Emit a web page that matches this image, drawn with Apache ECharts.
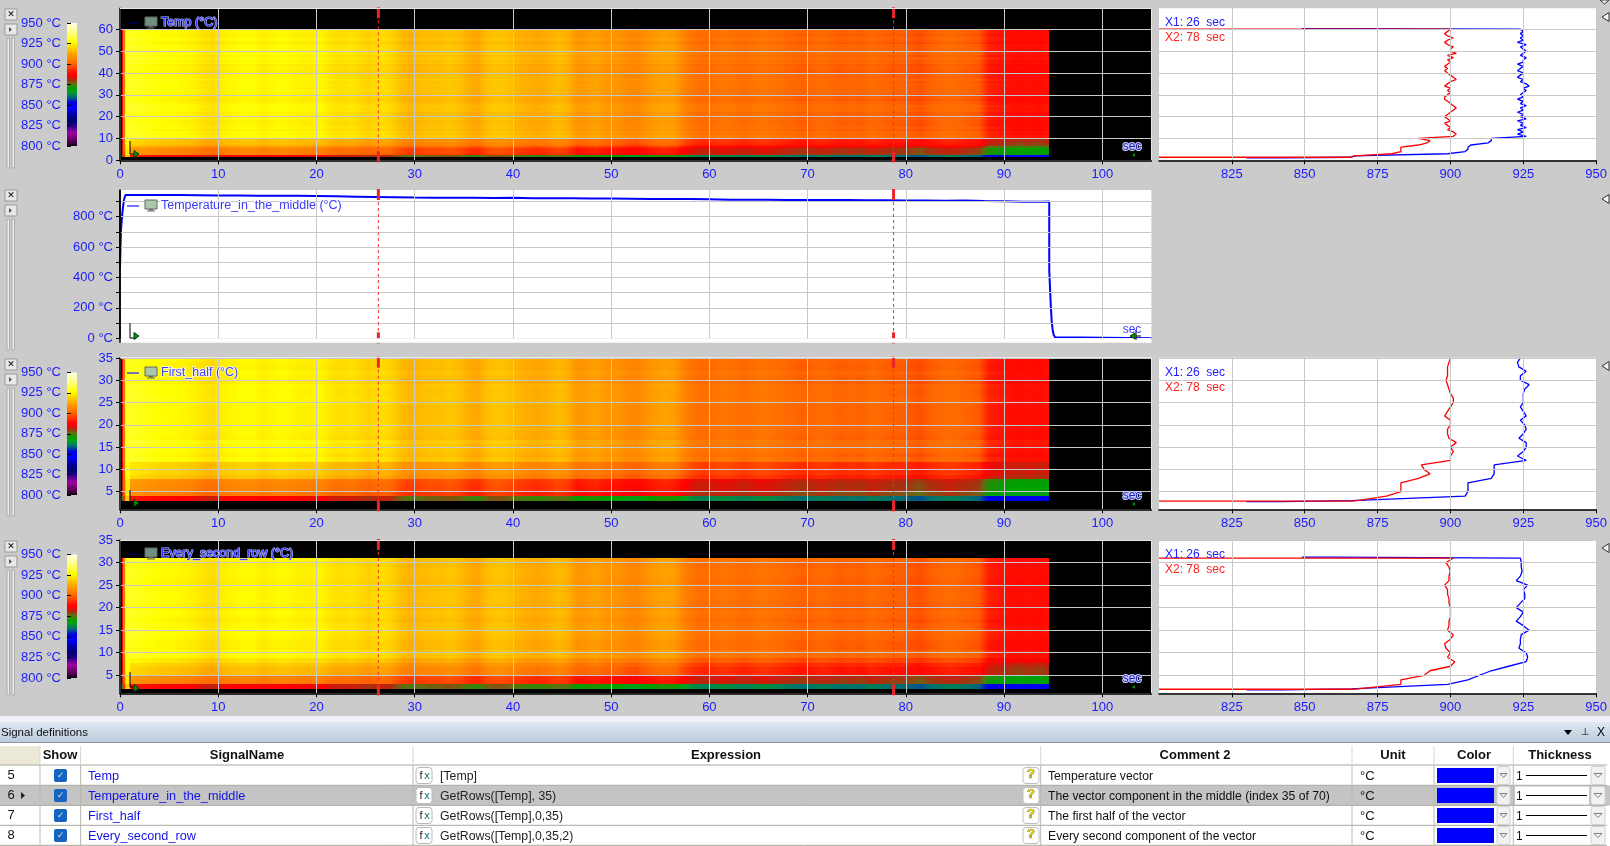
<!DOCTYPE html>
<html><head><meta charset="utf-8">
<style>html,body{margin:0;padding:0;background:#cbcbcb;overflow:hidden}#c{width:1610px;height:846px}</style>
<script src="https://cdn.jsdelivr.net/npm/echarts@6/dist/echarts.min.js"></script>
</head><body><div id="c"></div>
<script>
// ---------- data ----------
const colormapTemps = [950,938,927,918,910,900,890,886,880,876,870,866,860,853,846,838,830,825,816,805,800];
const colormapColors = ['#ffffe8','#ffff80','#ffff00','#ffc800','#ff9800','#ff6400','#ff1000','#ff0000','#a83010','#607010','#00a000','#00a020','#007070','#0000e0','#0000ff','#0000a0','#000070','#200090','#a000a0','#500050','#100010'];
const colorbarTicks = [800,825,850,875,900,925,950];
const timeTicks = [0,10,20,30,40,50,60,70,80,90,100];
const profileTicks = [825,850,875,900,925,950];
const cursorTimes = [26.3,78.75];

// column start times and body temperature of each heat-map column
const startEdges = [0,0.15,0.25,0.35,0.5,0.6];
const startTemps = [700,835,888,905,925,930];
const bodyTemps = [930,929,928,927,927,926,925,923,922,925,926,927,927,925,926,927,926,925,925,926,923,922,923,921,920,922,921,917,915,916,917,917,918,917,914,913,917,918,917,915,914,913,914,916,915,910,911,912,910,910,908,907,909,911,912,911,906,903,902,903,904,903,902,903,904,903,902,901,900,901,902,901,900,901,900,902,901,900,900,899,898,900,901,902,901,900,899,892,891,890,889,890,889,890];
const endTime = 94.6;

// panel 1: Temp — X1 / X2 profiles, rows 60 down to 2
const tempX1 = [924,925,924,925,924,925,923,926,924,925,926,925,924,926,925,925,923,925,924,923,925,924,923,925,924,926,927,925,926,925,924,925,923,925,924,926,924,925,923,925,924,926,923,925,924,926,923,925,923,926,914,914,913,907,906,906,905,899,867];
const tempX2 = [900,899,898,899,901,899,898,899,901,900,900,902,899,901,899,900,899,898,899,898,899,900,901,902,900,899,898,900,899,900,899,898,898,899,900,901,902,901,900,899,898,899,900,898,899,900,899,901,902,901,889,893,892,889,883,883,883,880,867];
const tempLowOffsets = [-9,-9,-10,-11,-16,-20,-20,-21,-40];

// panel 3: First_half — rows 35 down to 3
const firstX1 = [924,923,923.5,926,924,924,927,925.5,925,925,925,924,925,926,924,925.5,926,925,923.5,926,926,925,923,926,915,915,915,914,906,906,906,905,866];
const firstX2 = [900,899.5,899,899,899,898.5,899,899.5,900,901,901,900,899,898,900,900,899,899,899.5,902,900,901,900,900,890,891,893,889,883,883,883,878,868];
const firstLowOffsets = [-7,-7,-7,-9,-19,-20,-20,-22,-40];

// panel 4: Every_second_row — rows 31 down to 2
const everyX1 = [924,924.3,924.3,924.6,924,922.6,926.5,925,925.5,925.5,924,922.6,925,924,922.6,925,927,924.3,924,924,923.5,926,926.5,926,920,914,910,906,899,866];
const everyX2 = [901,898.5,899.5,900,899.5,899.5,898,899,899,899.5,899.5,900,900,900,899.5,899.5,899,901,900,898,898.5,900,899,901.5,900,893,891,883,883,868];
const everyLowOffsets = [-4,-8,-10,-10,-20,-21,-40];

// panel 2: Temperature_in_the_middle
const midRiseTimes = [0,0.1,0.25,0.4,0.55,1.7];
const midRiseTemps = [470,712,832,910,943,943];
const midTimes = [2,4,6,8,10,12,14,16,18,20,22,24,26,28,30,32,34,36,38,40,42,44,46,48,50,52,54,56,58,60,62,64,66,68,70,72,74,76,78,80,82,84,86,88,90,92,94];
const midTemps = [943,942,941,940,939,938,937,937,936,934,932,930,928,926,925,925,924,923,924,922,921,922,920,919,918,917,916,917,915,912,911,912,910,909,909,909,908,908,907,907,905,906,903,901,899,899,900];
const midFallTimes = [94.6,94.75,94.85,94.95,95.05,95.2,95.35,105];
const midFallTemps = [450,225,110,55,22,7,0,0];

// table
const rowNumbers = ['5','6','7','8'];
const signalNames = ['Temp','Temperature_in_the_middle','First_half','Every_second_row'];
const expressions = ['[Temp]','GetRows([Temp], 35)','GetRows([Temp],0,35)','GetRows([Temp],0,35,2)'];
const comments = ['Temperature vector','The vector component in the middle (index 35 of 70)','The first half of the vector','Every second component of the vector'];

// ---------- helpers ----------
const FONT = '"Liberation Sans",Arial,sans-serif';
const BLUE = '#1a1aff';
const GRIDC = '#c8c8c8';
const rgb = h => [1,3,5].map(i => parseInt(h.substr(i,2),16));
function colorOf(t){
  if (t < 800) return '#000000';
  if (t >= colormapTemps[0]) return colormapColors[0];
  for (let i = 1; i < colormapTemps.length; i++){
    if (t >= colormapTemps[i]){
      const f = (t-colormapTemps[i])/(colormapTemps[i-1]-colormapTemps[i]);
      const a = rgb(colormapColors[i]), b = rgb(colormapColors[i-1]);
      return 'rgb('+a.map((v,k)=>Math.round(v+(b[k]-v)*f)).join(',')+')';
    }
  }
  return '#000000';
}
const grid=[],xAxis=[],yAxis=[],series=[];
const PLOT_L=120, PLOT_R=1151.4, PROF_L=1159, PROF_R=1599.7, H=846, W=1610;
function addGrid(l,r,t,b,bg){
  grid.push({left:l,top:t,width:r-l,height:b-t,show:true,backgroundColor:bg,borderWidth:0,containLabel:false});
  return grid.length-1;
}
function axisX(g,min,max,ticks,labels,line){
  const a={type:'value',gridIndex:g,min,max,z:5,position:'bottom',
    axisLine:{show:line,onZero:false,lineStyle:{color:'#000',width:1.5}},
    axisTick:{show:line,length:4,customValues:ticks,lineStyle:{color:'#000'}},
    axisLabel:{show:labels,customValues:ticks,color:BLUE,fontFamily:FONT,fontSize:13,margin:8},
    splitLine:{show:true,lineStyle:{color:GRIDC,width:1}}};
  xAxis.push(a);return xAxis.length-1;
}
function axisY(g,min,max,ticks,labels,fmt,tickVals){
  const a={type:'value',gridIndex:g,min,max,z:5,position:'left',
    axisLine:{show:labels,onZero:false,lineStyle:{color:'#000',width:1.5}},
    axisTick:{show:labels,length:4,customValues:tickVals||ticks,lineStyle:{color:'#000'}},
    axisLabel:{show:labels,customValues:ticks,color:BLUE,fontFamily:FONT,fontSize:13,margin:7,padding:[2,0,0,0],formatter:fmt||'{value}'},
    splitLine:{show:true,lineStyle:{color:GRIDC,width:1}}};
  yAxis.push(a);return yAxis.length-1;
}
function cursorSeries(xi,yi,ymin,extra){
  series.push({type:'custom',xAxisIndex:xi,yAxisIndex:yi,z:8,silent:true,clip:false,animation:false,
    data:cursorTimes.map(t=>[t,ymin]),encode:{x:0,y:1},
    renderItem(p,api){
      const x=api.coord([api.value(0),api.value(1)])[0], c=p.coordSys;
      const bot=c.y+c.height;
      return {type:'group',children:[
        {type:'line',shape:{x1:x,y1:c.y,x2:x,y2:bot},style:{stroke:'#ff2a2a',lineWidth:1,lineDash:[3,3]}},
        {type:'rect',shape:{x:x-1.5,y:c.y-1,width:3,height:11},style:{fill:'#e8252a'}},
        {type:'rect',shape:{x:x-1.5,y:bot+extra-11,width:3,height:11},style:{fill:'#e8252a'}}
      ]};
    }});
}
function heatPanel(top,bottom,ymin,ymax,rowTicks,rowLow,rowHigh,x1,x2,lowOffsets){
  const g=addGrid(PLOT_L,PLOT_R,top,bottom,'#000');
  const xi=axisX(g,0,105,timeTicks,true,true);
  const yi=axisY(g,ymin,ymax,rowTicks,true);
  const edges=startEdges.slice(), temps=startTemps.slice();
  bodyTemps.forEach((v,i)=>{edges.push(i+1);temps.push(v);});
  edges.push(endTime);
  const n=x1.length, step=(rowHigh-rowLow)/n;
  const lowStart=n-lowOffsets.length, ns=startTemps.length;
  const data=[];
  for(let c=0;c<temps.length;c++){
    for(let r=0;r<n;r++){ // r=0 is the top row
      const off=r>=lowStart?lowOffsets[r-lowStart]:((x1[r]+x2[r])/2-912.5);
      const k=c<ns?0.3:1;
      const mid=temps[c]+off*k;
      const left=c>ns?(temps[c-1]+temps[c])/2+off:mid;
      const right=(c>=ns&&c<temps.length-1)?(temps[c]+temps[c+1])/2+off:mid;
      data.push([edges[c],rowHigh-(r+1)*step,edges[c+1],rowHigh-r*step,left,mid,right]);
    }
  }
  series.push({type:'custom',xAxisIndex:xi,yAxisIndex:yi,z:2,silent:true,animation:false,progressive:0,clip:true,
    data,encode:{x:[0,2],y:[1,3]},
    renderItem(p,api){
      const a=api.coord([api.value(0),api.value(1)]),b=api.coord([api.value(2),api.value(3)]);
      const x0=Math.round(a[0]),x1=Math.round(b[0]),y0=Math.round(b[1]),y1=Math.round(a[1]);
      const l=api.value(4),m=api.value(5),r=api.value(6);
      const fill=(l===m&&m===r)?colorOf(m):new echarts.graphic.LinearGradient(0,0,1,0,[
        {offset:0,color:colorOf(l)},{offset:0.5,color:colorOf(m)},{offset:1,color:colorOf(r)}]);
      return {type:'rect',shape:{x:x0,y:y0,width:x1-x0,height:y1-y0},style:{fill}};
    }});
  cursorSeries(xi,yi,ymin,2);
}
function profilePanel(top,bottom,ymin,ymax,rowTicks,rowTop,rowStep,x1,x2,x1Head,x1Tail,x2Head,x2Tail){
  const g=addGrid(PROF_L,PROF_R,top,bottom,'#fff');
  const xi=axisX(g,800,950,profileTicks,true,true);
  const yi=axisY(g,ymin,ymax,rowTicks,false);
  yAxis[yi].axisTick.show=true;yAxis[yi].axisTick.length=0;
  const mk=(head,vals,tail)=>head.concat(vals.map((v,i)=>[v,rowTop-i*rowStep]),tail);
  [[mk(x1Head,x1,x1Tail),'#0000ff'],[mk(x2Head,x2,x2Tail),'#ff0000']].forEach(([d,c])=>{
    series.push({type:'line',xAxisIndex:xi,yAxisIndex:yi,data:d,showSymbol:false,symbol:'none',animation:false,silent:true,z:3,clip:true,
      lineStyle:{color:c,width:1.3}});
  });
}
function colorbar(top,bottom){
  const g=addGrid(67,77,top,bottom,'transparent');
  const xi=xAxis.push({type:'value',gridIndex:g,min:0,max:1,show:false,splitLine:{show:false}})-1;
  const yi=yAxis.push({type:'value',gridIndex:g,min:800,max:950,position:'left',z:5,
    axisLine:{show:false},splitLine:{show:false},
    axisTick:{show:true,inside:true,length:4,customValues:colorbarTicks,lineStyle:{color:'#000',width:1}},
    axisLabel:{customValues:colorbarTicks,color:BLUE,fontFamily:FONT,fontSize:13,margin:6,padding:[2,0,0,0],formatter:'{value} °C'}})-1;
  const stops=colormapTemps.map((t,i)=>({offset:(950-t)/150,color:colormapColors[i]}));
  series.push({type:'custom',xAxisIndex:xi,yAxisIndex:yi,z:2,silent:true,animation:false,clip:false,
    data:[[0,800,1,950]],encode:{x:[0,2],y:[1,3]},
    renderItem(p,api){
      const a=api.coord([api.value(0),api.value(1)]),b=api.coord([api.value(2),api.value(3)]);
      return {type:'rect',shape:{x:a[0],y:b[1],width:b[0]-a[0],height:a[1]-b[1]},
        style:{fill:new echarts.graphic.LinearGradient(0,0,0,1,stops)}};
    }});
}

// ---------- panels ----------
const ticks60=[0,10,20,30,40,50,60], ticks35=[5,10,15,20,25,30,35];
heatPanel(8.3,160.3,0,69.6,ticks60,1.5,60,tempX1,tempX2,tempLowOffsets);
profilePanel(8.3,160.3,0,69.6,ticks60,60,1,tempX1,tempX2,
  [[849,60.3],[860,60.3],[860,60]],[[866,1.4],[842,1.15],[830,1.15]],[[800,60]],[[866,1.4],[800,1.4]]);
colorbar(23,146);

{
  const g=addGrid(PLOT_L,PLOT_R,190,338.3,'#fff');
  const xi=axisX(g,0,105,timeTicks.slice(1),false,false);
  const hundred=[0,100,200,300,400,500,600,700,800,900];
  const yi=axisY(g,0,975.6,[0,200,400,600,800],true,'{value} °C',hundred);
  const d=[];
  midRiseTimes.forEach((t,i)=>d.push([t,midRiseTemps[i]]));
  midTimes.forEach((t,i)=>d.push([t,midTemps[i]]));
  midFallTimes.forEach((t,i)=>d.push([t,midFallTemps[i]]));
  series.push({type:'line',xAxisIndex:xi,yAxisIndex:yi,data:d,step:'end',showSymbol:false,symbol:'none',animation:false,silent:true,z:3,clip:false,
    lineStyle:{color:'#0000ff',width:2}});
  cursorSeries(xi,yi,0,5);
}

heatPanel(357.7,509.3,1.05,35.05,ticks35,3,35,firstX1,firstX2,firstLowOffsets);
profilePanel(357.7,509.3,1.05,35.05,ticks35,35,1,firstX1,firstX2,
  [],[[842,2.75],[830,2.75]],[],[[866,2.9],[800,2.9]]);
colorbar(372.5,495);

heatPanel(540,693.3,1,35,ticks35,2,31,everyX1,everyX2,everyLowOffsets);
profilePanel(540,693.3,1,35,ticks35,31,1,everyX1,everyX2,
  [[849,31.2],[860,31.2],[860,31]],[[842,1.75],[830,1.75]],[[800,31]],[[866,1.9],[800,1.9]]);
colorbar(554.5,678);

// ---------- chrome drawn as graphic elements ----------
const G=[];
const Z=20;
const rect=(x,y,w,h,fill,stroke,r)=>G.push({type:'rect',z:Z,silent:true,shape:{x,y,width:w,height:h,r:r||0},style:{fill:fill||'none',stroke:stroke||null,lineWidth:1}});
const line=(x1,y1,x2,y2,c,w)=>G.push({type:'line',z:Z,silent:true,shape:{x1,y1,x2,y2},style:{stroke:c,lineWidth:w||1}});
const poly=(pts,fill,stroke)=>G.push({type:'polygon',z:Z,silent:true,shape:{points:pts},style:{fill:fill||'none',stroke:stroke||null,lineWidth:1}});
const text=(x,y,s,o)=>G.push({type:'text',z:Z+1,silent:true,style:Object.assign({x,y,text:s,fill:'#000',font:'13px '+FONT,textAlign:'left',textVerticalAlign:'middle'},o||{})});

rect(120,338.3,1031.4,4.4,'#fff');
line(120,190,120,342.7,'#000',1.5);
// light frame of the heat-map plots
[[8.5,160],[357.5,509],[540.5,693]].forEach(([t,b])=>{
  line(120,t,1151.5,t,'#e8e8e8',1);
  line(1151.5,t,1151.5,b,'#e8e8e8',1);
});

function plotDecor(title,yTitle,isBlack){
  line(127,yTitle+1,139,yTitle+1,isBlack?'#000060':BLUE,1.2);
  rect(145,yTitle-5,12,9,isBlack?'#6f8f80':'#a8c8a8','#666');
  rect(149,yTitle+4,4,1.5,'#666');rect(147,yTitle+5.5,8,1,'#666');
  text(161,yTitle+0.5,title,{fill:isBlack?'#2b2bff':'#3a3af0',font:'12.5px '+FONT,
    stroke:isBlack?'#c0c4ff':'#ffffff',lineWidth:isBlack?1.2:1.5});
}
plotDecor('Temp (°C)',22,true);
plotDecor('Temperature_in_the_middle (°C)',205,false);
plotDecor('First_half (°C)',372,false);
plotDecor('Every_second_row (°C)',553,true);

function arrowL(x,y1,y2,triY){
  line(x,y1,x,y2,'#000',1);line(x,y2,x+4,y2,'#000',1);
  poly([[x+4,triY-3.5],[x+9,triY],[x+4,triY+3.5]],'#118811','#004400');
}
arrowL(130,141,154,154);arrowL(130,323,338,336);arrowL(130,490,502,503);arrowL(130,672,687,688);

function secLabel(y,plain){
  text(1132,y,'sec',{fill:plain?'#3a3aff':'#2020c0',textAlign:'center',font:'12px '+FONT,
    stroke:plain?'#ffffff':'#c8d0ff',lineWidth:plain?0:2});
  if(!plain) poly([[1135,y+6],[1135,y+10],[1132,y+8]],'#118811');
}
secLabel(147);secLabel(329.5,true);secLabel(496);secLabel(679);
line(1136,330,1136,340,'#000',1);line(1136,336,1141,336,'#000',1);
poly([[1135,333],[1135,339],[1130,336]],'#118811','#004400');

function cursorText(y){
  text(1165,y,'X1: 26  sec',{fill:'#2020ff',font:'12px '+FONT});
  text(1165,y+15,'X2: 78  sec',{fill:'#ff2020',font:'12px '+FONT});
}
cursorText(23);cursorText(372.5);cursorText(554.5);

function sideControls(y,sliderEnd){
  rect(5,y,12,11,'#e8e8e8','#999');
  text(11,y+5.5,'✕',{textAlign:'center',font:'bold 9px "DejaVu Sans"'});
  rect(5,y+15,12,11,'#e8e8e8','#999');
  poly([[9,y+18],[9,y+23],[12,y+20.5]],'#555');
  rect(7,y+29,2.5,sliderEnd-y-29,'#eeeeee','#aaa');
  rect(12,y+29,2.5,sliderEnd-y-29,'#eeeeee','#aaa');
}
sideControls(9,168);sideControls(190,350);sideControls(359,516);sideControls(541,695);

const sideTri=y=>poly([[1609,y-4.5],[1609,y+4.5],[1602,y]],'#f4f4f4','#333');
sideTri(17);sideTri(199);sideTri(366);sideTri(548);
poly([[1600,0],[1609,0],[1604.5,4]],'#f4f4f4','#333');

// table
rect(0,716,1610,6,'#eef2f8');
G.push({type:'rect',z:Z,silent:true,shape:{x:0,y:722,width:1610,height:20},
  style:{fill:new echarts.graphic.LinearGradient(0,0,0,1,[{offset:0,color:'#dfe8f2'},{offset:1,color:'#bccbdc'}])}});
rect(0,742,1610,104,'#ffffff');
line(0,742.5,1610,742.5,'#8a94a0',1);
text(1,733,'Signal definitions',{font:'11.5px '+FONT,fill:'#111'});
poly([[1564,730],[1572,730],[1568,735]],'#000');
text(1585,732,'⊥',{font:'10px "DejaVu Sans"',textAlign:'center'});
text(1601,733,'X',{font:'12px '+FONT,textAlign:'center'});

const colX=[40,80.6,413,1040.7,1352,1434,1513.3];
const headers=[['Show',60],['SignalName',247],['Expression',726],['Comment 2',1195],['Unit',1393],['Color',1474],['Thickness',1560]];
rect(0,746,40,19,'#ece9d8');
headers.forEach(h=>text(h[1],755.5,h[0],{font:'bold 13px '+FONT,textAlign:'center',fill:'#111'}));
rect(0,785.5,1610,20,'#c4c4c4');
const rowY=[775.5,795.5,815.5,835.5];
[765,785.3,805.3,825.3,845.3].forEach(y=>line(0,y,1607,y,'#a8a89c',1));
colX.forEach(x=>line(x,746,x,765,'#d8d8d0',1));
colX.forEach(x=>line(x,765,x,845.3,'#b8b8b0',1));
rowY.forEach((y,i)=>{
  const ty=y+0.7;
  text(11,ty-0.5,rowNumbers[i],{textAlign:'center',font:'13px '+FONT,fill:'#111'});
  if(i===1) poly([[21,y-3.5],[21,y+3.5],[25,y]],'#222');
  rect(54,y-6.5,13,13,'#1565c0',null,2);
  text(60.5,y,'✓',{textAlign:'center',font:'9px "DejaVu Sans"',fill:'#cfe0f5'});
  text(88,ty,signalNames[i],{fill:'#1414e6',font:'12.7px '+FONT});
  rect(416,y-8,16,16,'#fff','#b8b8b8',3);
  text(421,ty,'f',{font:'11px '+FONT,fill:'#222',textAlign:'center'});
  text(427,ty,'x',{font:'11px '+FONT,fill:'#157070',textAlign:'center'});
  text(440,ty,expressions[i],{fill:'#222',font:'12.3px '+FONT});
  rect(1023,y-8,16,16,'#fff','#c0c0c0',3);
  text(1031,y-1,'?',{textAlign:'center',font:'bold 13px '+FONT,fill:'#e6d800',stroke:'#555',lineWidth:0.7});
  text(1048,ty,comments[i],{fill:'#111',font:'12.2px '+FONT});
  text(1360,ty,'°C',{fill:'#111',font:'13px '+FONT});
  rect(1437,y-7.5,57,15,'#0000ff');
  rect(1497,y-9,13,18,'#f2f2f2','#d0d0d0',2);
  poly([[1500,y-2],[1503.5,y+2],[1507,y-2]],null,'#808080');
  if(i===1) rect(1515,y-9,74,18,'#fff');
  text(1516,ty,'1',{fill:'#111',font:'12px '+FONT});
  line(1526,y,1587,y,'#000',1);
  rect(1591,y-9,14,18,'#f2f2f2','#d0d0d0',2);
  poly([[1594,y-2],[1598,y+2],[1602,y-2]],null,'#808080');
});

const chart=echarts.init(document.getElementById('c'),null,{renderer:'canvas',width:W,height:H});
chart.setOption({animation:false,backgroundColor:'#cbcbcb',grid,xAxis,yAxis,series,graphic:{elements:G},tooltip:{show:false}});
</script></body></html>
